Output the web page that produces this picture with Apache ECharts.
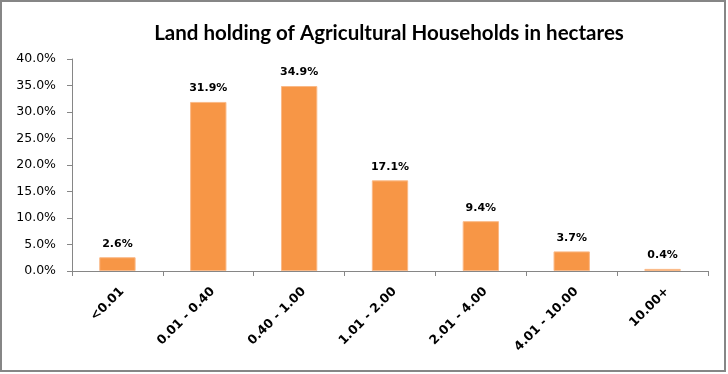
<!DOCTYPE html>
<html>
<head>
<meta charset="utf-8">
<script src="https://cdn.jsdelivr.net/npm/echarts@6/dist/echarts.min.js"></script>
<style>
html,body{margin:0;padding:0;background:#fff;}
#c{width:728px;height:374px;}
</style>
</head>
<body>
<div id="c"></div>
<script>
const titleText = "Land holding of Agricultural Households in hectares";
const categories = ["<0.01", "0.01 - 0.40", "0.40 - 1.00", "1.01 - 2.00", "2.01 - 4.00", "4.01 - 10.00", "10.00+"];
const shares = [2.6, 31.9, 34.9, 17.1, 9.4, 3.7, 0.4];
const yTicks = [0, 5, 10, 15, 20, 25, 30, 35, 40];

const chart = echarts.init(document.getElementById('c'), null, {renderer: 'canvas'});
chart.setOption({
  animation: false,
  backgroundColor: '#ffffff',
  title: {
    text: titleText,
    left: 384, top: 18, textAlign: 'center',
    textStyle: {fontFamily: 'Lato', fontWeight: 'bold', fontSize: 20.5, color: '#000'}
  },
  graphic: [{
    type: 'rect', shape: {x: 1, y: 1, width: 724, height: 370},
    style: {fill: 'none', stroke: '#868686', lineWidth: 2}, silent: true
  }],
  grid: {left: 72, right: 20, top: 59, bottom: 103},
  xAxis: {
    type: 'category', data: categories, boundaryGap: true,
    axisLine: {lineStyle: {color: '#868686', width: 1}},
    axisTick: {show: true, length: 5, lineStyle: {color: '#868686'}},
    axisLabel: {
      rotate: 45, interval: 0, margin: 14, verticalAlign: 'top',
      fontFamily: 'DejaVu Sans', fontWeight: 'bold', fontSize: 12.5, color: '#000'
    }
  },
  yAxis: {
    type: 'value', min: yTicks[0], max: yTicks[yTicks.length - 1], interval: 5,
    splitLine: {show: false},
    axisLine: {show: true, lineStyle: {color: '#868686', width: 1}},
    axisTick: {show: true, length: 5, lineStyle: {color: '#868686'}},
    axisLabel: {
      formatter: v => v.toFixed(1) + '%', margin: 16,
      fontFamily: 'DejaVu Sans', fontSize: 12.5, color: '#000'
    }
  },
  series: [{
    type: 'bar', data: shares, barCategoryGap: '60%',
    itemStyle: {color: '#F79646', borderColor: '#FAB987', borderWidth: 1},
    label: {
      show: true, position: 'top', distance: 8,
      formatter: p => p.value.toFixed(1) + '%',
      fontFamily: 'DejaVu Sans', fontWeight: 'bold', fontSize: 11, color: '#000'
    }
  }]
});
</script>
</body>
</html>
